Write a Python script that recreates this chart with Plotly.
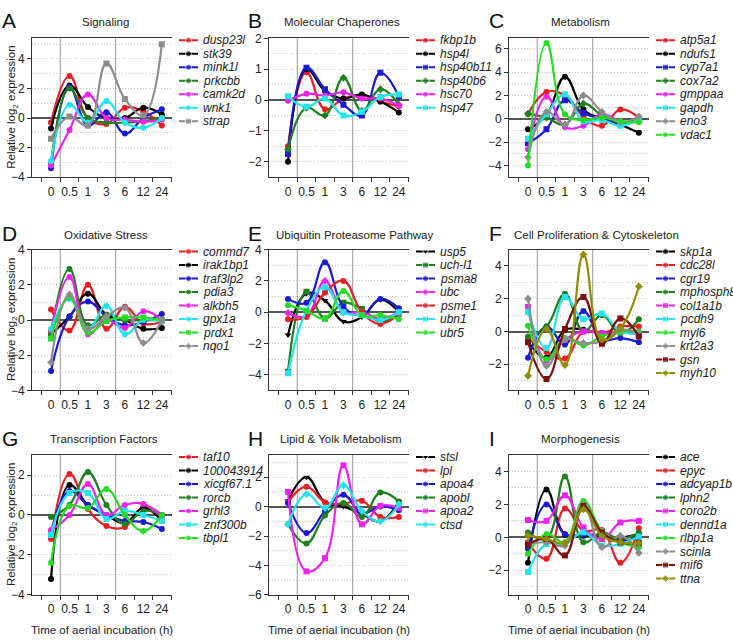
import plotly.graph_objects as go

times = ["0", "0.5", "1", "3", "6", "12", "24"]

RED = "#ec1c24"; BLK = "#000000"; BLU = "#1a1ad6"; DGR = "#1d801d"; MAG = "#ee22ee"
CYN = "#22e4ee"; GRY = "#8c8c8c"; LGR = "#24dc24"; DRD = "#7d0f0f"; OLV = "#8e8e00"

# A - Signaling
sig_genes = ["dusp23l", "stk39", "mink1l", "prkcbb", "camk2d", "wnk1", "strap"]
sig_vals = [
    [-0.3, 2.85, 0.0, -0.4, 0.7, 0.45, -0.5],
    [-0.7, 2.2, 0.75, 0.0, 0.0, 0.7, 0.25],
    [-3.4, 2.1, -0.5, 0.4, -1.05, 0.0, 0.6],
    [-3.1, 2.0, 0.0, -0.3, -0.3, -0.2, 0.0],
    [-3.2, -0.8, 1.6, 0.0, -0.1, -0.25, -0.1],
    [-2.9, 0.9, -0.3, 1.15, -0.3, -0.65, 0.0],
    [-1.4, 0.1, -0.5, 3.7, 1.3, 0.2, 5.0],
]
sig_syms = ["circle"] * 6 + ["square"]
sig_cols = [RED, BLK, BLU, DGR, MAG, CYN, GRY]

# B - Molecular Chaperones
chap_genes = ["fkbp1b", "hsp4l", "hsp40b11", "hsp40b6", "hsc70", "hsp47"]
chap_vals = [
    [-1.5, 0.9, -0.3, 0.05, 0.15, -0.05, -0.2],
    [-2.0, 1.0, 0.3, 0.05, 0.18, -0.05, -0.4],
    [-1.75, 1.05, 0.35, -0.15, -0.5, 0.88, 0.12],
    [-1.6, -0.25, -0.5, 0.72, -0.35, 0.35, -0.15],
    [-0.02, 0.2, 0.15, 0.25, 0.05, 0.05, -0.18],
    [0.12, -0.22, 0.05, -0.5, -0.38, 0.1, 0.18],
]
chap_syms = ["circle", "circle", "square", "diamond", "circle", "square"]
chap_cols = [RED, BLK, BLU, DGR, MAG, CYN]

# C - Metabolism
met_genes = ["atp5a1", "ndufs1", "cyp7a1", "cox7a2", "gmppaa", "gapdh", "eno3", "vdac1"]
met_vals = [
    [0.4, 2.3, 2.0, 0.2, -0.6, 0.8, 0.1],
    [-0.9, 0.3, 3.6, 0.8, 0.0, -0.5, -1.2],
    [-2.1, -0.9, 1.6, 0.5, 0.0, -0.3, -0.1],
    [0.45, 0.1, -0.5, 1.3, 0.3, -0.3, -0.2],
    [-2.6, 1.9, -0.7, -0.6, 0.4, -0.2, -0.2],
    [-1.7, 0.4, 2.1, -0.2, -0.1, -0.6, 0.0],
    [-3.3, 0.6, -0.5, 2.0, 0.6, -0.3, 0.2],
    [-4.0, 6.5, 0.4, -0.1, 0.1, -0.2, -0.3],
]
met_syms = ["circle", "circle", "square", "diamond", "circle", "square", "diamond", "circle"]
met_cols = [RED, BLK, BLU, DGR, MAG, CYN, GRY, LGR]

# D - Oxidative Stress
ox_genes = ["commd7", "irak1bp1", "traf3lp2", "pdia3", "alkbh5", "gpx1a", "prdx1", "nqo1"]
ox_vals = [
    [0.6, -0.6, 2.0, -0.5, 0.75, -0.2, -0.1],
    [-0.8, 0.2, 1.5, 0.3, 0.0, -0.5, -0.45],
    [-2.9, 0.2, 1.05, 0.2, -0.3, -0.1, 0.35],
    [-0.75, 2.9, -0.3, 0.3, 0.0, 0.0, 0.0],
    [-0.6, 2.45, -0.8, 0.0, -0.45, 0.5, 0.0],
    [-0.5, 1.2, -0.5, 0.8, -0.8, 0.0, -0.1],
    [-1.05, 1.3, -0.7, -0.05, 0.15, 0.15, 0.0],
    [-2.4, 1.45, -0.5, 0.2, 0.7, -1.3, 0.0],
]
ox_syms = ["circle"] * 6 + ["square", "diamond"]
ox_cols = [RED, BLK, BLU, DGR, MAG, CYN, LGR, GRY]

# E - Ubiquitin Proteasome Pathway
ubq_genes = ["usp5", "uch-l1", "psma8", "ubc", "psme1", "ubn1", "ubr5"]
ubq_vals = [
    [-1.45, 1.2, 0.75, -0.6, -0.3, 0.8, 0.0],
    [-3.8, 1.3, -0.4, 0.6, 0.2, -0.6, -0.1],
    [0.85, 0.6, 3.2, 0.35, -0.2, 0.85, 0.25],
    [-0.05, -0.25, 2.0, 0.0, 0.0, -0.4, 0.0],
    [-0.45, -0.3, 1.25, 2.0, 0.0, -0.75, -0.1],
    [-3.9, 0.1, 1.6, 0.0, -0.2, -0.5, 0.0],
    [0.45, 0.1, -0.4, 1.35, -0.2, -0.2, -0.45],
]
ubq_syms = ["triangle-down", "square", "circle", "diamond", "circle", "square", "circle"]
ubq_cols = [BLK, DGR, BLU, MAG, RED, CYN, LGR]

# F - Cell Proliferation & Cytoskeleton
cyto_genes = ["skp1a", "cdc28l", "cgr19", "mphosph8", "col1a1b", "pcdh9", "myl6", "krt2a3", "gsn", "myh10"]
cyto_vals = [
    [-0.6, -1.6, 0.1, 0.1, -0.1, 0.0, -0.2],
    [-0.4, -1.25, -1.65, 0.0, -0.1, 0.3, 0.3],
    [-1.6, 0.3, -0.8, 1.25, -0.5, -0.4, -0.65],
    [-0.3, 0.3, 2.3, 0.0, 1.0, -0.1, 0.75],
    [1.5, -1.75, -0.5, 0.0, -0.1, 0.0, -0.2],
    [1.2, -1.0, 2.1, 0.75, 1.1, 0.0, -0.1],
    [0.35, -1.7, -0.4, -0.85, -0.3, 0.0, 0.0],
    [2.0, -2.1, -0.5, -0.7, -0.6, 0.1, -0.1],
    [-0.65, -2.9, 0.15, 2.1, -0.75, 0.8, -0.3],
    [-2.7, 0.15, -2.05, 4.7, -0.5, 0.2, 2.75],
]
cyto_syms = ["circle", "circle", "circle", "circle", "square", "square", "circle", "diamond", "square", "diamond"]
cyto_cols = [BLK, RED, BLU, DGR, MAG, CYN, LGR, GRY, DRD, OLV]

# G - Transcription Factors
tf_genes = ["taf10", "100043914", "xicgf67.1", "rorcb", "grhl3", "znf300b", "tbpl1"]
tf_vals = [
    [-1.2, 2.05, 0.3, -0.55, -0.6, 0.4, 0.0],
    [-3.2, 1.5, 0.5, 0.0, -0.4, 0.35, -0.3],
    [-0.9, 1.2, 0.5, 0.0, -0.3, -0.35, -0.7],
    [-0.1, 0.5, 2.15, 0.5, -0.45, 0.2, 0.0],
    [-0.75, 0.0, 1.55, 0.0, 0.5, 0.55, -0.1],
    [-1.0, 1.1, 1.1, -0.2, 0.2, 0.0, -0.3],
    [-2.4, 0.45, 0.35, 1.3, 0.0, -0.8, 0.0],
]
tf_syms = ["circle"] * 5 + ["square", "circle"]
tf_cols = [RED, BLK, BLU, DGR, MAG, CYN, LGR]

# H - Lipid & Yolk Metabolism
lip_genes = ["stsl", "lpl", "apoa4", "apobl", "apoa2", "ctsd"]
lip_vals = [
    [0.4, 2.0, 0.3, 0.0, -0.5, -1.0, 0.35],
    [0.3, 1.35, 0.3, 0.2, 0.4, -0.7, -0.7],
    [0.25, -1.8, -0.3, 0.8, -0.45, 0.0, -0.25],
    [-1.2, -2.5, -0.6, 0.25, -0.7, 0.95, 0.35],
    [1.0, -4.4, -3.5, 2.8, -1.2, 0.05, -0.1],
    [-1.2, 0.85, -0.1, 1.45, -0.3, -1.0, 0.15],
]
lip_syms = ["triangle-down", "circle", "circle", "circle", "square", "diamond"]
lip_cols = [BLK, RED, BLU, DGR, MAG, CYN]

# I - Morphogenesis
mor_genes = ["ace", "epyc", "adcyap1b", "lphn2", "coro2b", "dennd1a", "rlbp1a", "scinla", "mif6", "ttna"]
mor_vals = [
    [-1.55, 2.9, 0.15, 0.1, 0.1, 0.0, 0.2],
    [-0.3, -1.3, 1.75, 0.4, 0.45, -1.55, 0.55],
    [-0.7, 2.0, 0.2, 0.15, 0.1, -0.2, 0.0],
    [0.3, -0.1, 3.7, -0.3, 0.3, -0.1, 0.3],
    [1.05, 1.0, 2.55, 0.6, -0.1, 0.9, 1.0],
    [-2.1, -0.4, -0.4, 0.3, -0.5, -0.4, 0.05],
    [-1.0, 0.2, -0.3, 2.2, 0.4, -0.3, -0.6],
    [-0.4, -0.3, -0.5, 2.0, -0.6, 0.1, -0.95],
    [-0.45, -0.1, -1.1, 1.9, 0.3, -0.3, -0.35],
    [0.1, -0.1, -0.35, 1.7, 0.1, -0.3, -0.35],
]
mor_syms = ["circle", "circle", "circle", "circle", "square", "square", "circle", "diamond", "square", "diamond"]
mor_cols = [BLK, RED, BLU, DGR, MAG, CYN, LGR, GRY, DRD, OLV]

panels = [
    dict(letter="A", title="Signaling", tx=105, genes=sig_genes, vals=sig_vals, syms=sig_syms, cols=sig_cols, yr=[-4, 5.4], dt=2),
    dict(letter="B", title="Molecular Chaperones", tx=342, genes=chap_genes, vals=chap_vals, syms=chap_syms, cols=chap_cols, yr=[-2.5, 2], dt=1),
    dict(letter="C", title="Metabolism", tx=580, genes=met_genes, vals=met_vals, syms=met_syms, cols=met_cols, yr=[-5, 6.9], dt=2),
    dict(letter="D", title="Oxidative Stress", tx=106, genes=ox_genes, vals=ox_vals, syms=ox_syms, cols=ox_cols, yr=[-4, 4], dt=2),
    dict(letter="E", title="Ubiquitin Proteasome Pathway", tx=354, genes=ubq_genes, vals=ubq_vals, syms=ubq_syms, cols=ubq_cols, yr=[-5, 4], dt=2),
    dict(letter="F", title="Cell Proliferation & Cytoskeleton", tx=596, genes=cyto_genes, vals=cyto_vals, syms=cyto_syms, cols=cyto_cols, yr=[-3.6, 5], dt=2),
    dict(letter="G", title="Transcription Factors", tx=104, genes=tf_genes, vals=tf_vals, syms=tf_syms, cols=tf_cols, yr=[-4, 3], dt=2),
    dict(letter="H", title="Lipid & Yolk Metabolism", tx=340, genes=lip_genes, vals=lip_vals, syms=lip_syms, cols=lip_cols, yr=[-6, 3.5], dt=2),
    dict(letter="I", title="Morphogenesis", tx=580, genes=mor_genes, vals=mor_vals, syms=mor_syms, cols=mor_cols, yr=[-3.5, 5], dt=2),
]

W, H = 733, 644
col_left = [32, 269, 509]
row_top = [32, 248, 458]
row_bot = [174, 392, 601]
title_y = [15, 233, 442]
letter_x = [1, 247, 488]
PW = 140
LSTEP = 13.8
FONT = "Liberation Sans, Arial, Helvetica, sans-serif"
TXT = "#222222"
GRID = "#c6c6c6"

xs = list(range(len(times)))
fig = go.Figure()
layout = {}
annotations = []
shapes = []


def ax_suffix(n):
    return "" if n == 1 else str(n)


for k, p in enumerate(panels):
    r, c = divmod(k, 3)
    x0 = col_left[c]; x1 = x0 + PW
    y0 = row_top[r]; y1 = row_bot[r]
    xd = [x0 / W, x1 / W]
    yd = [1 - y1 / H, 1 - y0 / H]
    sn = ax_suffix(k + 1)
    sl = ax_suffix(k + 10)
    xa, ya = f"x{sn}", f"y{sn}"
    lxa, lya = f"x{sl}", f"y{sl}"

    for g, v, s, col in zip(p["genes"], p["vals"], p["syms"], p["cols"]):
        fig.add_trace(go.Scatter(
            x=xs, y=v, mode="lines+markers", name=g,
            line=dict(color=col, width=2.2, shape="spline", smoothing=1.2),
            marker=dict(symbol=s, size=6, color=col),
            xaxis=xa, yaxis=ya, showlegend=False))

    layout[f"xaxis{sn}"] = dict(
        domain=xd, anchor=ya, range=[-1.03, 6.55],
        tickmode="array", tickvals=xs, ticktext=times, ticks="",
        showgrid=False, zeroline=False, showline=True, linecolor="#333333", linewidth=1, mirror=True,
        tickfont=dict(size=12, color=TXT, family=FONT), ticklabelstandoff=3,
        minor=dict(tickmode="array", tickvals=[i - 0.5 for i in range(8)], ticks="outside",
                   ticklen=4, tickcolor="#333333", showgrid=False),
        fixedrange=True)
    layout[f"yaxis{sn}"] = dict(
        domain=yd, anchor=xa, range=p["yr"], tick0=0, dtick=p["dt"],
        ticks="outside", ticklen=4, tickcolor="#333333",
        showgrid=True, griddash="1px,2px", gridcolor=GRID, gridwidth=1,
        minor=dict(tick0=0, dtick=p["dt"] / 2, showgrid=True, griddash="1px,2px", gridcolor=GRID, ticks=""),
        zeroline=True, zerolinecolor="#555555", zerolinewidth=1.5,
        showline=True, linecolor="#333333", linewidth=1,
        tickfont=dict(size=12, color=TXT, family=FONT), fixedrange=True)

    for xv in (0.5, 3.5):
        shapes.append(dict(type="line", xref=xa, yref=f"{ya} domain", x0=xv, x1=xv, y0=0, y1=1,
                           line=dict(color="#9a9a9a", width=1), layer="below"))

    # legend (drawn on its own hidden axis pair, one row per gene)
    hpx = y1 - y0
    layout[f"xaxis{sl}"] = dict(domain=[(x0 + 147) / W, (x0 + 166) / W], anchor=lya, range=[0, 1],
                                visible=False, fixedrange=True)
    layout[f"yaxis{sl}"] = dict(domain=yd, anchor=lxa, range=[(hpx - 2) / LSTEP, -2 / LSTEP],
                                visible=False, fixedrange=True)
    for i, (g, s, col) in enumerate(zip(p["genes"], p["syms"], p["cols"])):
        fig.add_trace(go.Scatter(
            x=[0, 0.5, 1], y=[i, i, i], mode="lines+markers",
            line=dict(color=col, width=2), marker=dict(symbol=s, size=[0, 6, 0], color=col),
            xaxis=lxa, yaxis=lya, showlegend=False, hoverinfo="skip", cliponaxis=False))
        annotations.append(dict(x=1, y=i, xref=lxa, yref=lya, text=f"<i>{g}</i>", showarrow=False,
                                xanchor="left", yanchor="middle", xshift=3,
                                font=dict(size=12, color=TXT, family=FONT)))

    annotations.append(dict(x=p["tx"] / W, y=1 - title_y[r] / H, xref="paper", yref="paper",
                            text=p["title"], showarrow=False, xanchor="center", yanchor="middle",
                            font=dict(size=11.5, color=TXT, family=FONT)))
    annotations.append(dict(x=letter_x[c] / W, y=1 - (title_y[r] - 1) / H, xref="paper", yref="paper",
                            text=p["letter"], showarrow=False, xanchor="left", yanchor="middle",
                            borderpad=0,
                            font=dict(size=21, color="#111111", family=FONT)))
    if c == 0:
        annotations.append(dict(x=12 / W, y=1 - (y0 + y1) / 2 / H, xref="paper", yref="paper",
                                text="Relative log<sub>2</sub> expression", textangle=-90, showarrow=False,
                                xanchor="center", yanchor="middle",
                                font=dict(size=11.5, color=TXT, family=FONT)))
    if r == 2:
        annotations.append(dict(x=(x0 + PW / 2) / W, y=1 - 637 / H, xref="paper", yref="paper",
                                text="Time of aerial incubation (h)", showarrow=False,
                                xanchor="center", yanchor="middle",
                                font=dict(size=11.5, color=TXT, family=FONT)))

fig.update_layout(
    width=W, height=H, margin=dict(l=0, r=0, t=0, b=0),
    paper_bgcolor="white", plot_bgcolor="white", showlegend=False,
    annotations=annotations, shapes=shapes, font=dict(family=FONT),
    **layout)

fig.write_html("out.html")
